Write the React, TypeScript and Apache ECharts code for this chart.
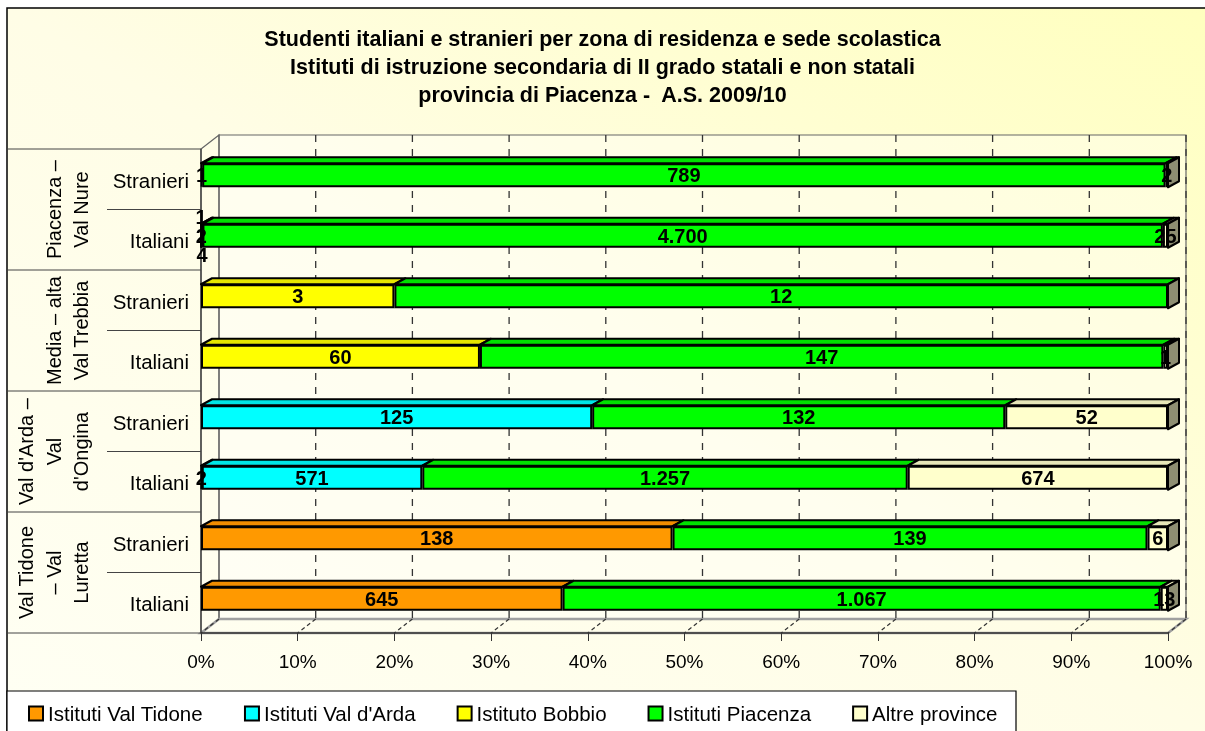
import React, { useEffect, useRef } from "react";
import * as echarts from "echarts";

// ---- DATA (rows listed bottom to top) ----
const rowLabels = ["Italiani", "Stranieri", "Italiani", "Stranieri", "Italiani", "Stranieri", "Italiani", "Stranieri"];
const groupLabels = ["Val Tidone\n– Val\nLuretta", "Val d'Arda –\nVal\nd'Ongina", "Media – alta\nVal Trebbia", "Piacenza –\nVal Nure"];
const seriesNames = ["Istituti Val Tidone", "Istituti Val d'Arda", "Istituto Bobbio", "Istituti Piacenza", "Altre province"];
const valTidone = [645, 138, 2, 0, 0, 0, 1, 1];
const valDArda = [0, 0, 571, 125, 0, 0, 2, 0];
const bobbio = [0, 0, 0, 0, 60, 3, 4, 0];
const piacenza = [1067, 139, 1257, 132, 147, 12, 4700, 789];
const altre = [13, 6, 674, 52, 1, 0, 25, 2];
const xTickValues = [0, 10, 20, 30, 40, 50, 60, 70, 80, 90, 100];

// ---- STYLE ----
const colors = ["#FF9900", "#00FFFF", "#FFFF00", "#00FF00", "#FFFFCC"];
const topColors = ["#F08C00", "#00E6E6", "#E6E600", "#00E000", "#E6E6B8"];
const sideColors = ["#9A5C00", "#009999", "#99991A", "#009900", "#8E8E72"];
const FONT = "'Liberation Sans', Arial, Helvetica, sans-serif";
const W = 1205, H = 731;
const PL = 201, PR = 1168, PT = 149, PB = 633; // front plane of plot
const WDX = 18, WDY = 14; // wall depth
const SHIFT = 4; // bars sit slightly above band centre
const BAR_H = 24, BDX = 11, BDY = 6;
const SMALL_PCT = 1.5; // segments narrower than this get stacked labels
const LABEL_STEP = 19;

const allValues = [valTidone, valDArda, bobbio, piacenza, altre];
const totals = rowLabels.map((_, r) => allValues.reduce((a, s) => a + s[r], 0));

// label offsets for clusters of tiny adjacent segments (mimics spreading of overlapping labels)
const labelDy: number[][] = allValues.map((s) => s.map(() => 0));
rowLabels.forEach((_, r) => {
  let cluster: number[] = [];
  const flush = () => {
    if (cluster.length > 1) {
      cluster.forEach((si, i) => {
        labelDy[si][r] = (i - (cluster.length - 1) / 2) * LABEL_STEP;
      });
    }
    cluster = [];
  };
  allValues.forEach((s, si) => {
    const p = (s[r] / totals[r]) * 100;
    if (s[r] > 0 && p < SMALL_PCT) cluster.push(si);
    else if (s[r] > 0) flush();
  });
  flush();
});

const fmt = (n: number) => String(n).replace(/\B(?=(\d{3})+(?!\d))/g, ".");

const faceData: number[][] = [];
rowLabels.forEach((_, r) => {
  let cum = 0;
  allValues.forEach((s, si) => {
    const p = (s[r] / totals[r]) * 100;
    const last = si === allValues.length - 1 ? 1 : 0;
    if (s[r] > 0 || last) faceData.push([cum, cum + p, r, si, last]);
    cum += p;
  });
});

export default function App() {
  const ref = useRef<HTMLDivElement>(null);
  useEffect(() => {
    if (!ref.current) return;
    const chart = echarts.init(ref.current, null, { renderer: "svg" });
    const fx = (p: number) => PL + ((PR - PL) * p) / 100;
    const bandH = (PB - PT) / rowLabels.length;

    const graphics: any[] = [];
    graphics.push({
      type: "rect", z: -10, silent: true,
      shape: { x: 7, y: 8, width: W, height: H },
      style: {
        fill: new echarts.graphic.LinearGradient(0, 1, 1, 0, [
          { offset: 0, color: "#FFFFF4" },
          { offset: 0.5, color: "#FFFDE6" },
          { offset: 1, color: "#FFFFBE" },
        ]),
        stroke: "#000", lineWidth: 1.5,
      },
    });
    // back wall
    graphics.push({
      type: "rect", z: -5, silent: true,
      shape: { x: PL + WDX, y: PT - WDY, width: PR - PL, height: PB - PT },
      style: { fill: "rgba(255,255,255,0.35)", stroke: "#666", lineWidth: 1.2 },
    });
    // left wall
    graphics.push({
      type: "polygon", z: -5, silent: true,
      shape: { points: [[PL, PT], [PL + WDX, PT - WDY], [PL + WDX, PB - WDY], [PL, PB]] },
      style: { fill: "none", stroke: "#666", lineWidth: 1.2 },
    });
    // floor
    graphics.push({
      type: "polygon", z: -5, silent: true,
      shape: { points: [[PL, PB], [PL + WDX, PB - WDY], [PR + WDX, PB - WDY], [PR, PB]] },
      style: { fill: "none", stroke: "#A0A0A0", lineWidth: 2.5 },
    });
    xTickValues.forEach((v) => {
      if (v > 0) {
        graphics.push({
          type: "line", z: -4, silent: true,
          shape: { x1: fx(v) + WDX, y1: PT - WDY, x2: fx(v) + WDX, y2: PB - WDY },
          style: { stroke: "#333", lineWidth: 1.3, lineDash: [7, 7] },
        });
      }
      graphics.push({
        type: "line", z: -4, silent: true,
        shape: { x1: fx(v) + WDX, y1: PB - WDY, x2: fx(v), y2: PB },
        style: { stroke: "#333", lineWidth: 1.2, lineDash: [4, 3] },
      });
    });
    // left front edge
    graphics.push({
      type: "line", z: -3, silent: true,
      shape: { x1: PL, y1: PT, x2: PL, y2: PB },
      style: { stroke: "#333", lineWidth: 1.2 },
    });
    // category separators and group labels
    groupLabels.forEach((g, gi) => {
      const yBottom = PB - gi * 2 * bandH;
      const yMid = yBottom - bandH;
      const yTopG = yBottom - 2 * bandH;
      graphics.push({
        type: "line", z: -3, silent: true,
        shape: { x1: 8, y1: yBottom, x2: PL, y2: yBottom },
        style: { stroke: "#444", lineWidth: 1 },
      });
      if (gi === groupLabels.length - 1) {
        graphics.push({
          type: "line", z: -3, silent: true,
          shape: { x1: 8, y1: yTopG, x2: PL, y2: yTopG },
          style: { stroke: "#444", lineWidth: 1 },
        });
      }
      graphics.push({
        type: "line", z: -3, silent: true,
        shape: { x1: 107, y1: yMid, x2: PL, y2: yMid },
        style: { stroke: "#444", lineWidth: 1 },
      });
      graphics.push({
        type: "text", z: 3, silent: true,
        x: 95, y: (yBottom + yTopG) / 2, rotation: Math.PI / 2,
        style: {
          text: g, fill: "#000", fontSize: 20, fontFamily: FONT,
          align: "center", verticalAlign: "bottom", lineHeight: 27.5,
        },
      });
    });
    // legend box
    graphics.push({
      type: "rect", z: 3, silent: true,
      shape: { x: 7, y: 691, width: 1009, height: 60 },
      style: { fill: "#FFFFFF", stroke: "#000", lineWidth: 1.2 },
    });

    const barSeries = seriesNames.map((name, si) => ({
      name,
      type: "bar",
      stack: "total",
      z: 2,
      barWidth: BAR_H,
      data: allValues[si].map((v, r) =>
        v === 0
          ? "-"
          : { value: (v / totals[r]) * 100, label: { offset: [0, labelDy[si][r]] } }
      ),
      itemStyle: { color: colors[si], borderColor: "#000", borderWidth: 2 },
      label: {
        show: true,
        position: "inside",
        color: "#000",
        fontWeight: "bold",
        fontSize: 20,
        lineHeight: 16,
        fontFamily: FONT,
        formatter: (p: any) => (allValues[si][p.dataIndex] > 0 ? fmt(allValues[si][p.dataIndex]) : ""),
      },
    }));

    chart.setOption({
      animation: false,
      textStyle: { fontFamily: FONT },
      title: {
        text: "Studenti italiani e stranieri per zona di residenza e sede scolastica\nIstituti di istruzione secondaria di II grado statali e non statali\nprovincia di Piacenza -  A.S. 2009/10",
        left: "center",
        top: 20,
        textStyle: { fontSize: 21.5, fontWeight: "bold", lineHeight: 28, color: "#000", fontFamily: FONT },
      },
      legend: {
        data: seriesNames,
        left: 23,
        top: 698,
        itemWidth: 14,
        itemHeight: 14,
        itemGap: 41,
        icon: "rect",
        z: 5,
        textStyle: { fontSize: 20.5, color: "#000", fontFamily: FONT },
      },
      grid: { left: PL, right: W - PR, top: PT - SHIFT, bottom: H - (PB - SHIFT), containLabel: false },
      xAxis: {
        type: "value",
        min: 0,
        max: 100,
        interval: 10,
        offset: SHIFT,
        axisLine: { show: true, lineStyle: { color: "#333", width: 1.5 } },
        axisTick: { show: true, length: 8, lineStyle: { color: "#333" } },
        splitLine: { show: false },
        axisLabel: { formatter: "{value}%", fontSize: 19, color: "#000", margin: 19, fontFamily: FONT },
      },
      yAxis: {
        type: "category",
        data: rowLabels.map((l, i) => `${i}|${l}`),
        axisLine: { show: false },
        axisTick: { show: false },
        axisLabel: {
          formatter: (v: string) => v.split("|")[1],
          fontSize: 20.5,
          color: "#000",
          margin: 12,
          verticalAlign: "top",
          lineHeight: 10,
          fontFamily: FONT,
        },
      },
      graphic: { elements: graphics },
      series: [
        ...barSeries,
        {
          name: "faces3d",
          type: "custom",
          z: 1,
          silent: true,
          data: faceData,
          encode: { x: [0, 1], y: 2 },
          renderItem: (params: any, api: any) => {
            const s = api.value(0), e = api.value(1), row = api.value(2), si = api.value(3), last = api.value(4);
            const p0 = api.coord([s, row]);
            const p1 = api.coord([e, row]);
            const yT = p0[1] - BAR_H / 2;
            const yB = p0[1] + BAR_H / 2;
            const children: any[] = [];
            if (e > s) {
              children.push({
                type: "polygon",
                shape: { points: [[p0[0], yT], [p0[0] + BDX, yT - BDY], [p1[0] + BDX, yT - BDY], [p1[0], yT]] },
                style: { fill: topColors[si], stroke: "#000", lineWidth: 2, lineJoin: "round" },
              });
            }
            if (last) {
              children.push({
                type: "polygon",
                shape: { points: [[p1[0], yT], [p1[0] + BDX, yT - BDY], [p1[0] + BDX, yB - BDY], [p1[0], yB]] },
                style: { fill: sideColors[si], stroke: "#000", lineWidth: 2, lineJoin: "round" },
              });
            }
            return { type: "group", children };
          },
        },
      ],
    });
    return () => chart.dispose();
  }, []);
  return <div ref={ref} style={{ position: "fixed", left: 0, top: 0, width: W, height: H }} />;
}
